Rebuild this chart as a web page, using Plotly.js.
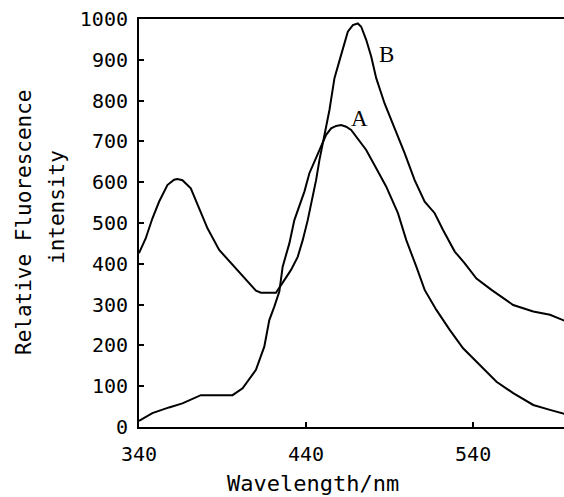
<!DOCTYPE html>
<html>
<head>
<meta charset="utf-8">
<script src="https://cdn.plot.ly/plotly-3.0.1.min.js"></script>
<style>html,body{margin:0;padding:0;overflow:hidden;background:#fff;}</style>
</head>
<body>
<div id="chart"></div>
<script>
// Curve B (starts high with 365 nm band, main peak ~471 nm)
const wlB = [340,344,348,352,357,361,363,366,371,376,381,388,396,404,410,413,422,427,431,435,438,441,444,446,448,450,452,454,457,461,465,468,471,473,476,479,482,487,493,496,499,505,511,517,522,529,535,542,551,564,576,586,595];
const valB = [426,462,511,552,593,606,608,605,585,536,487,434,397,360,334,329,329,360,385,417,458,507,564,605,654,691,736,777,855,912,969,985,989,981,949,908,855,793,732,699,671,605,552,524,483,430,401,364,336,299,283,275,260];
// Curve A (low start with plateau, peak ~461 nm)
const wlA = [340,348,358,366,377,396,402,410,415,418,421,424,426,430,433,436,439,442,445,449,452,455,458,461,464,467,470,476,482,488,495,500,506,511,518,526,534,544,554,564,576,586,595];
const valA = [15,34,48,58,78,78,95,140,197,262,295,332,393,450,507,540,577,622,650,687,716,732,738,740,736,728,711,679,634,589,524,458,393,336,287,238,193,152,111,83,54,42,32];
const xTicks = [340,440,540];
const yTicks = [0,100,200,300,400,500,600,700,800,900,1000];
const curveLabels = ["A","B"];

const mono = "DejaVu Sans Mono, monospace";
const traces = [
  {x: wlA, y: valA, mode: "lines", line: {color: "#000", width: 2}, hoverinfo: "skip"},
  {x: wlB, y: valB, mode: "lines", line: {color: "#000", width: 2}, hoverinfo: "skip"}
];
const L = 139, T = 19, B = 70, W = 565, H = 497;
const PH = H - T - B;
const layout = {
  width: W, height: H,
  margin: {l: L, r: 0, t: T, b: B, pad: 0},
  paper_bgcolor: "#fff", plot_bgcolor: "#fff",
  showlegend: false,
  xaxis: {
    range: [340, 595], tickvals: xTicks, ticktext: xTicks.map(String),
    showgrid: false, zeroline: false, showline: true, linecolor: "#000", linewidth: 2, mirror: true,
    ticks: "inside", ticklen: 5, tickwidth: 2, tickcolor: "#000",
    tickfont: {family: mono, size: 20, color: "#000"}, ticklabelstandoff: 8
  },
  yaxis: {
    range: [0, 1000], tickvals: yTicks, ticktext: yTicks.map(String),
    showgrid: false, zeroline: false, showline: true, linecolor: "#000", linewidth: 2, mirror: true,
    ticks: "inside", ticklen: 5, tickwidth: 2, tickcolor: "#000",
    tickfont: {family: mono, size: 20, color: "#000"}, ticklabelstandoff: 5
  },
  annotations: [
    {text: curveLabels[0], x: 472, y: 757, xref: "x", yref: "y", showarrow: false,
     font: {family: "Liberation Serif, serif", size: 23, color: "#000"}},
    {text: curveLabels[1], x: 488, y: 912, xref: "x", yref: "y", showarrow: false,
     font: {family: "Liberation Serif, serif", size: 23, color: "#000"}},
    {text: "Relative Fluorescence", xref: "paper", yref: "paper", x: 0, xshift: 24 - L,
     y: (427 - 222) / PH, textangle: -90, showarrow: false, xanchor: "center", yanchor: "middle",
     font: {family: mono, size: 21, color: "#000"}},
    {text: "intensity", xref: "paper", yref: "paper", x: 0, xshift: 57 - L,
     y: (427 - 207) / PH, textangle: -90, showarrow: false, xanchor: "center", yanchor: "middle",
     font: {family: mono, size: 21, color: "#000"}},
    {text: "Wavelength/nm", xref: "paper", yref: "paper", x: (313 - L) / (W - L),
     y: (427 - 483) / PH, showarrow: false, xanchor: "center", yanchor: "middle",
     font: {family: mono, size: 22, color: "#000"}}
  ]
};
Plotly.newPlot("chart", traces, layout, {displayModeBar: false, staticPlot: true});
</script>
</body>
</html>
